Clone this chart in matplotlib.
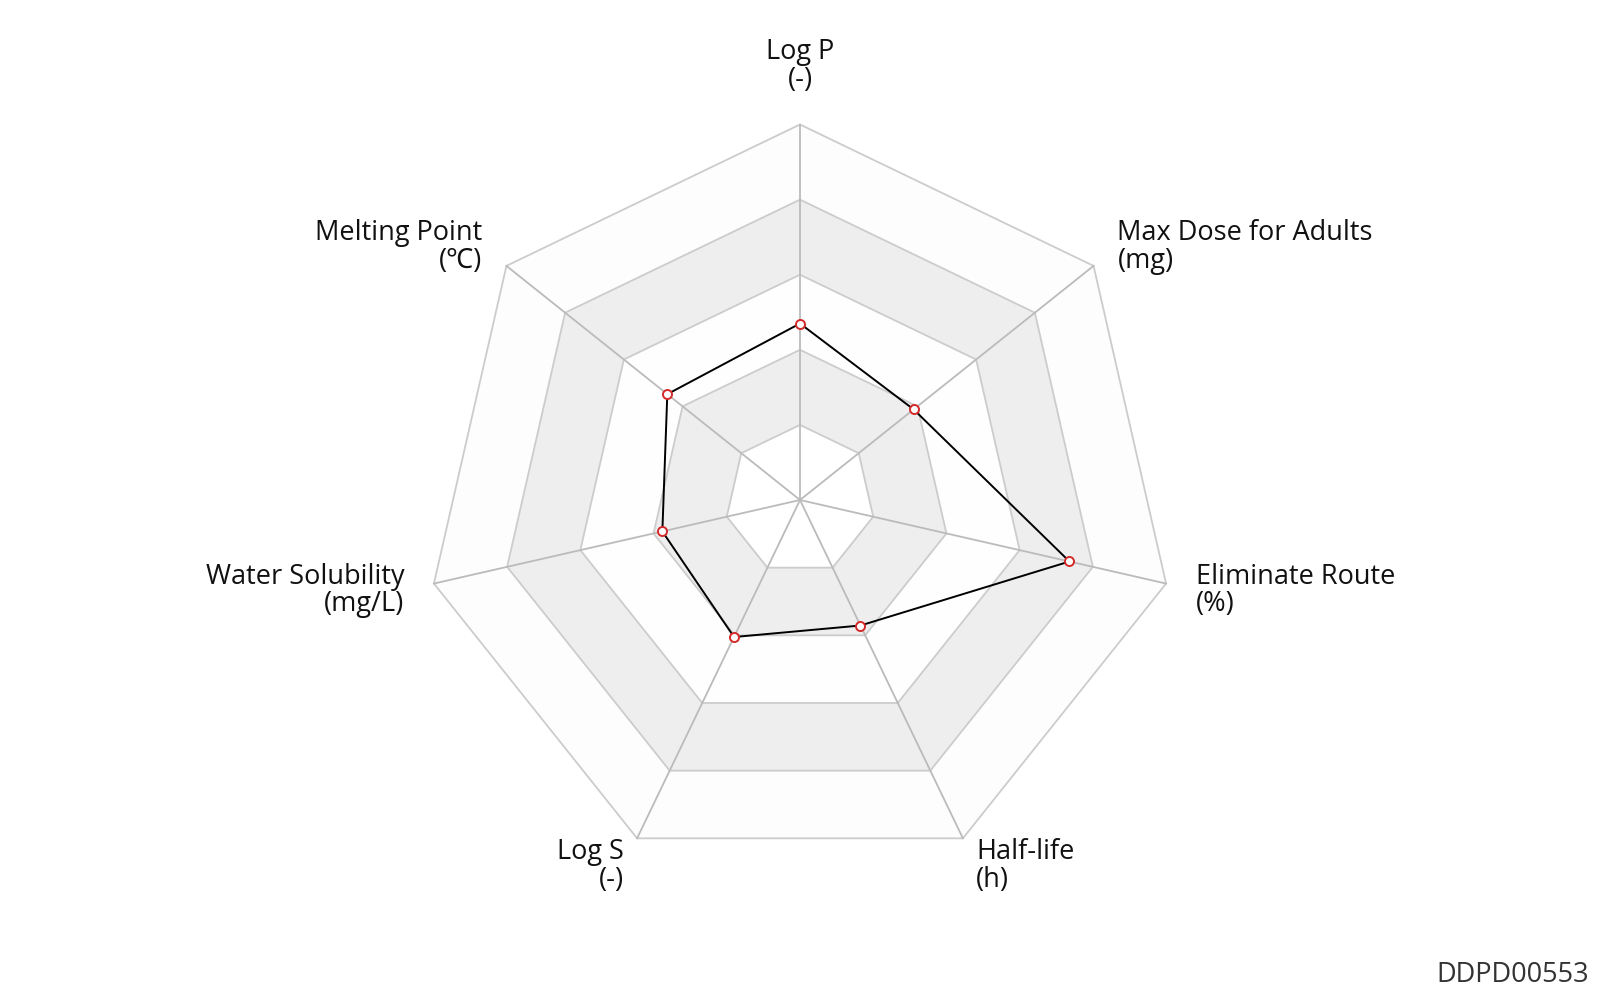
import numpy as np
import matplotlib
matplotlib.use("Agg")
import matplotlib.pyplot as plt
from matplotlib.patches import Polygon

# Drug property radar profile
axis_names = ["Log P", "Max Dose for Adults", "Eliminate Route", "Half-life",
              "Log S", "Water Solubility", "Melting Point"]
axis_units = ["(-)", "(mg)", "(%)", "(h)", "(-)", "(mg/L)", "(\u2103)"]
values = [0.47, 0.387, 0.736, 0.371, 0.405, 0.376, 0.452]
levels = [0.2, 0.4, 0.6, 0.8, 1.0]
band_colors = ["#ffffff", "#eeeeee", "#fefefe", "#eeeeee", "#fdfdfd"]
code_label = "DDPD00553"

plt.rcParams["font.family"] = ["Open Sans", "Noto Sans", "DejaVu Sans"]

W, H = 1600, 1000
R = 375.5  # radius of the outer ring in pixels
fig = plt.figure(figsize=(W / 100, H / 100), dpi=100)
ax = fig.add_axes([0, 0, 1, 1])
ax.set_xlim(-800 / R, 800 / R)
ax.set_ylim(-500 / R, 500 / R)
ax.set_aspect("equal")
ax.axis("off")

n = len(axis_names)
angles = np.pi / 2 - 2 * np.pi * np.arange(n) / n
cx, cy = np.cos(angles), np.sin(angles)

# Alternating split areas, drawn from the outside in
for lvl, col in reversed(list(zip(levels, band_colors))):
    ax.add_patch(Polygon(np.column_stack([lvl * cx, lvl * cy]), closed=True,
                         facecolor=col, edgecolor="none", zorder=1))

# Ring lines
for lvl in levels:
    ax.add_patch(Polygon(np.column_stack([lvl * cx, lvl * cy]), closed=True,
                         facecolor="none", edgecolor="#cccccc", lw=1.3, zorder=2))

# Spokes
for x, y in zip(cx, cy):
    ax.plot([0, levels[-1] * x], [0, levels[-1] * y], color="#bbbbbb", lw=1.3, zorder=2)

# Data polygon
v = np.array(values)
px = np.append(v * cx, v[0] * cx[0])
py = np.append(v * cy, v[0] * cy[0])
ax.plot(px, py, color="#000000", lw=1.4, zorder=3)
ax.plot(v * cx, v * cy, linestyle="none", marker="o", ms=6.5, mfc="white",
        mec="#d42a2a", mew=1.4, zorder=4)

# Axis names
gap = 1.0 + 30.5 / R
for name, unit, x, y in zip(axis_names, axis_units, cx, cy):
    if abs(x) < 1e-6:
        ha, va = "center", "bottom"
    else:
        ha = "left" if x > 0 else "right"
        va = "center"
    ax.text(gap * x, gap * y, f"{name}\n{unit}", ha=ha, va=va, multialignment=ha,
            fontsize=19.5, color="#111111", linespacing=0.98, zorder=5)

fig.text(1589 / W, 1 - 975 / H, code_label, ha="right", va="center",
         fontsize=19.5, color="#333333")

fig.savefig("out.png", dpi=100, facecolor="white")
